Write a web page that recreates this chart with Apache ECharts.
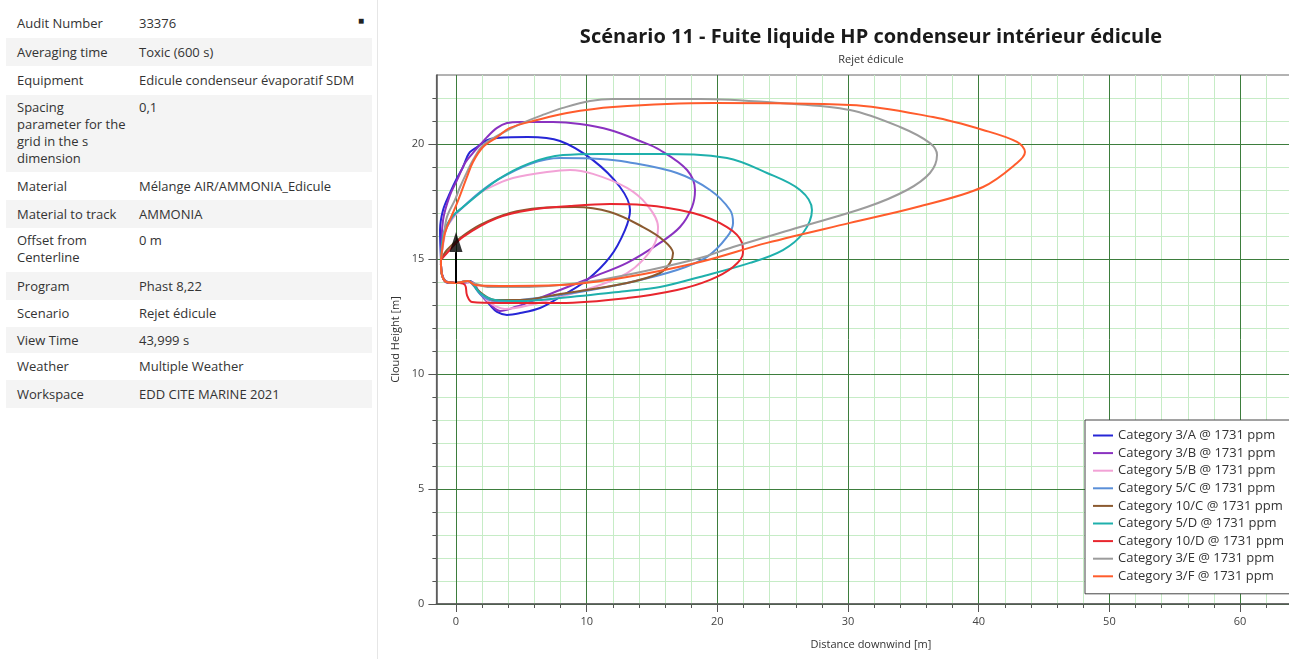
<!DOCTYPE html>
<html>
<head>
<meta charset="utf-8">
<script src="https://cdn.jsdelivr.net/npm/echarts@6/dist/echarts.min.js"></script>
<style>
  html, body { margin:0; padding:0; width:1289px; height:659px; overflow:hidden; background:#fff; font-family:"Open Sans","Noto Sans",sans-serif; }
  #panel { position:absolute; left:0; top:0; width:377px; height:659px; background:#fff; border-right:1px solid #e6e6e6; }
  .row { position:absolute; left:6px; width:366px; font-size:13px; color:#333; line-height:17px; white-space:nowrap; }
  .row .k { position:absolute; left:11px; width:118px; }
  .row .v { position:absolute; left:133px; }
  .odd { background:#f4f4f4; }
  #pin { position:absolute; left:358px; top:13px; font-size:10px; color:#222; }
  #chart { position:absolute; left:380px; top:0; width:982px; height:659px; }
</style>
</head>
<body>
<div id="panel"></div>
<div id="chart"></div>
<script>
// ---------- Table data ----------
const tableKeys = ["Audit Number","Averaging time","Equipment","Spacing<br>parameter for the<br>grid in the s<br>dimension","Material","Material to track","Offset from<br>Centerline","Program","Scenario","View Time","Weather","Workspace"];
const tableValues = ["33376","Toxic (600 s)","Edicule condenseur évaporatif SDM","0,1","Mélange AIR/AMMONIA_Edicule","AMMONIA","0 m","Phast 8,22","Rejet édicule","43,999 s","Multiple Weather","EDD CITE MARINE 2021"];
const rowTops = [8,38,66,95,172,200,228,272,300,327,353,380];
const rowHeights = [30,28,29,77,28,28,44,28,27,26,27,28];

// ---------- Chart data ----------
const titleText = "Scénario 11 - Fuite liquide HP condenseur intérieur édicule";
const subTitleText = "Rejet édicule";
const seriesNames = ["Category 3/A @ 1731 ppm","Category 3/B @ 1731 ppm","Category 5/B @ 1731 ppm","Category 5/C @ 1731 ppm","Category 10/C @ 1731 ppm","Category 5/D @ 1731 ppm","Category 10/D @ 1731 ppm","Category 3/E @ 1731 ppm","Category 3/F @ 1731 ppm"];
const seriesColors = ["#2626d6","#8a32c0","#f2a2d6","#5a8fd8","#8b5a30","#1fb0ac","#e8262e","#9c9c9c","#ff5c2c"];
const xMajorTicks = [0,10,20,30,40,50,60];
const xMinorTicks = [2,4,6,8,12,14,16,18,22,24,26,28,32,34,36,38,42,44,46,48,52,54,56,58,62,64];
const yMajorTicks = [0,5,10,15,20];
const yMinorTicks = [1,2,3,4,6,7,8,9,11,12,13,14,16,17,18,19,21,22];

const cat3A = [[-1.15,14.96],[-1.22,16.26],[-0.99,17.13],[-0.46,17.87],[0.08,18.52],[0.54,19.0],[0.84,19.43],[1.07,19.65],[1.61,19.87],[2.37,20.17],[3.14,20.26],[5.5,20.3],[7.96,20.13],[10.48,19.3],[12.55,18.13],[13.32,17.13],[12.93,16.26],[11.79,15.09],[10.03,14.09],[7.96,13.35],[6.43,12.87],[4.9,12.65],[3.9,12.57],[3.14,12.7],[2.6,13.0],[2.07,13.35],[1.61,13.65],[1.07,14.04],[0.54,13.96],[-0.46,13.96],[-0.92,14.09],[-1.15,14.74],[-1.15,14.96]];
const cat3B = [[-1.15,14.96],[-0.99,16.7],[-0.46,17.78],[0.08,18.43],[0.69,19.17],[1.3,19.61],[1.84,19.96],[2.37,20.3],[3.14,20.7],[3.9,20.91],[4.9,20.96],[7.42,20.96],[9.49,20.87],[11.79,20.61],[14.08,20.13],[15.61,19.74],[17.68,18.87],[18.29,18.0],[18.06,17.26],[17.14,16.39],[15.61,15.7],[13.09,14.83],[10.48,14.22],[7.96,13.65],[6.05,13.22],[4.52,12.91],[3.37,12.74],[2.6,13.04],[1.84,13.48],[1.22,14.0],[0.31,13.96],[-0.77,14.04],[-1.15,14.74],[-1.15,14.96]];
const cat5B = [[-1.15,14.96],[-0.92,15.83],[-0.69,16.39],[0.31,17.13],[1.84,17.87],[3.14,18.26],[4.36,18.52],[6.96,18.78],[8.72,18.87],[10.48,18.7],[13.09,18.09],[14.62,17.35],[15.46,16.39],[15.23,15.7],[14.31,14.96],[13.09,14.39],[11.02,13.87],[7.96,13.35],[5.66,13.0],[3.75,12.83],[2.6,13.09],[1.68,13.65],[1.07,14.0],[-0.08,13.96],[-0.84,14.04],[-1.15,14.74],[-1.15,14.96]];
const cat5C = [[-1.15,14.96],[-0.92,16.04],[-0.31,16.78],[0.54,17.26],[1.84,17.91],[3.14,18.43],[5.66,19.13],[7.96,19.39],[11.02,19.35],[13.09,19.22],[16.91,18.74],[19.44,18.0],[20.97,17.13],[21.2,16.57],[20.74,15.96],[19.21,15.09],[16.91,14.52],[13.09,13.96],[7.96,13.43],[4.9,13.22],[2.98,13.17],[2.0,13.39],[1.3,13.87],[0.92,14.04],[-0.08,13.96],[-0.84,14.04],[-1.15,14.74],[-1.15,14.96]];
const cat10C = [[-1.15,14.96],[-0.69,15.39],[0.31,15.91],[1.84,16.48],[4.13,17.0],[6.43,17.22],[9.11,17.26],[11.79,17.04],[14.31,16.39],[15.84,15.83],[16.61,15.26],[16.38,14.83],[15.61,14.39],[13.09,13.96],[7.96,13.48],[4.9,13.22],[2.98,13.22],[1.84,13.56],[1.22,13.96],[0.92,14.04],[-0.08,13.96],[-0.84,14.04],[-1.15,14.74],[-1.15,14.96]];
const cat5D = [[-1.15,14.96],[-0.92,16.17],[-0.31,16.83],[0.54,17.26],[3.14,18.43],[5.66,19.17],[8.19,19.52],[11.02,19.57],[15.61,19.57],[20.74,19.39],[23.8,18.74],[26.33,18.0],[27.24,17.13],[26.56,16.13],[25.02,15.39],[22.5,14.83],[18.67,14.22],[15.61,13.78],[13.09,13.61],[7.96,13.3],[4.9,13.17],[2.98,13.22],[1.84,13.52],[1.3,13.91],[0.92,14.04],[-0.08,13.96],[-0.84,14.04],[-1.15,14.74],[-1.15,14.96]];
const cat10D = [[-1.15,14.96],[-0.69,15.26],[0.54,15.96],[3.14,16.78],[5.66,17.13],[8.72,17.3],[11.79,17.39],[14.31,17.35],[18.14,17.0],[20.74,16.39],[21.89,15.7],[21.96,15.26],[21.2,14.65],[19.44,14.09],[16.91,13.65],[13.09,13.3],[7.96,13.09],[3.37,13.09],[1.22,13.13],[0.84,13.43],[0.69,13.87],[0.15,13.96],[-0.77,14.0],[-1.15,14.74],[-1.15,14.96]];
const cat3E = [[-1.15,14.96],[-0.92,16.04],[-0.69,16.83],[-0.08,17.57],[0.31,18.13],[0.84,18.78],[1.3,19.3],[2.07,19.96],[3.14,20.35],[4.9,20.87],[6.81,21.3],[8.19,21.57],[10.25,21.87],[12.02,21.96],[18.67,21.96],[24.8,21.78],[30.15,21.48],[33.98,20.74],[36.27,20.04],[36.81,19.52],[36.27,18.74],[34.51,18.0],[31.45,17.26],[26.33,16.39],[21.2,15.52],[18.67,15.04],[14.85,14.52],[11.02,14.09],[7.96,13.87],[4.9,13.78],[2.6,13.78],[1.3,13.96],[0.92,14.04],[-0.08,13.96],[-0.84,14.04],[-1.15,14.74],[-1.15,14.96]];
const cat3F = [[-1.15,14.96],[-0.92,15.96],[-0.69,16.39],[0.08,17.43],[0.84,18.57],[1.3,19.22],[2.07,19.87],[3.14,20.3],[4.13,20.7],[6.2,21.04],[8.49,21.35],[12.02,21.61],[19.67,21.78],[30.15,21.7],[36.5,21.17],[40.33,20.61],[42.93,20.09],[43.54,19.65],[42.93,19.17],[40.33,18.13],[35.28,17.26],[30.15,16.57],[23.8,15.7],[18.67,14.87],[13.09,14.22],[7.96,13.87],[3.37,13.83],[1.45,13.87],[0.92,14.04],[-0.08,13.96],[-0.84,14.04],[-1.15,14.74],[-1.15,14.96]];
const arrowShaft = [[0,13.96],[0,15.3]];
const arrowHead = [[0,15.74]];

// ---------- Build left panel ----------
const panel = document.getElementById('panel');
tableKeys.forEach((k, i) => {
  const r = document.createElement('div');
  r.className = 'row' + (i % 2 === 1 ? ' odd' : '');
  r.style.top = rowTops[i] + 'px';
  r.style.height = rowHeights[i] + 'px';
  const single = k.indexOf('<br>') < 0;
  const pad = single ? Math.round((rowHeights[i] - 17) / 2) : 4;
  r.innerHTML = '<div class="k" style="top:' + pad + 'px">' + k + '</div><div class="v" style="top:' + pad + 'px">' + tableValues[i] + '</div>';
  panel.appendChild(r);
});
const pin = document.createElement('div');
pin.id = 'pin'; pin.textContent = '■';
panel.appendChild(pin);

// ---------- Chart ----------
const chart = echarts.init(document.getElementById('chart'), null, {renderer: 'canvas'});
const curves = [cat3A, cat3B, cat5B, cat5C, cat10C, cat5D, cat10D, cat3E, cat3F];
const FONT = '"Open Sans","Noto Sans",sans-serif';
const gridRect = {left: 56.4, top: 75, width: 869, height: 529};
const series = curves.map((d, i) => ({
  name: seriesNames[i], type: 'line', data: d, xAxisIndex: 0, yAxisIndex: 0,
  smooth: 0.35, symbol: 'none', showSymbol: false,
  lineStyle: {color: seriesColors[i], width: 2}, itemStyle: {color: seriesColors[i]},
  z: 3 + i
}));
series.push({
  name: 'arrowShaft', type: 'line', data: arrowShaft, symbol: 'none',
  lineStyle: {color: '#000', width: 2}, z: 20, silent: true
});
series.push({
  name: 'arrowHead', type: 'scatter', data: arrowHead, symbol: 'triangle',
  symbolSize: [13, 20], itemStyle: {color: '#000'}, z: 21, silent: true
});

const axisFont = {color: '#444', fontSize: 11, fontFamily: FONT};
chart.setOption({
  animation: false,
  backgroundColor: '#fff',
  textStyle: {fontFamily: FONT},
  title: {
    text: titleText, subtext: subTitleText, left: 'center', top: 22, itemGap: 7,
    textStyle: {fontSize: 20, fontWeight: 'bold', color: '#1a1a1a', fontFamily: FONT},
    subtextStyle: {fontSize: 11, color: '#333', fontFamily: FONT}
  },
  legend: {
    data: seriesNames, orient: 'vertical', left: 705, top: 420,
    icon: 'rect', itemWidth: 20, itemHeight: 2, itemGap: 2.6,
    padding: [8, 10, 10, 8],
    backgroundColor: '#fff', borderColor: '#444', borderWidth: 1, borderRadius: 0,
    textStyle: {fontSize: 13, color: '#333', fontFamily: FONT, lineHeight: 15},
    selectedMode: false
  },
  grid: [
    Object.assign({show: true, borderColor: '#666', borderWidth: 1, backgroundColor: 'transparent', outerBoundsMode: 'none', containLabel: false}, gridRect),
    Object.assign({show: false, outerBoundsMode: 'none', containLabel: false}, gridRect)
  ],
  xAxis: [
    {
      type: 'value', gridIndex: 0, min: -1.5, max: 65, position: 'bottom',
      name: 'Distance downwind [m]', nameLocation: 'middle', nameGap: 35,
      nameTextStyle: {color: '#333', fontSize: 11, fontFamily: FONT},
      axisLine: {show: true, onZero: false, lineStyle: {color: '#555', width: 1.5}},
      axisTick: {show: true, customValues: xMajorTicks, length: 8, lineStyle: {color: '#555'}},
      axisLabel: Object.assign({customValues: xMajorTicks, margin: 12}, axisFont),
      splitLine: {show: true, lineStyle: {color: '#3d7d3d', width: 1}},
      z: 2
    },
    {
      type: 'value', gridIndex: 1, min: -1.5, max: 65, position: 'bottom',
      axisLine: {show: false, onZero: false},
      axisTick: {show: true, customValues: xMinorTicks, length: 4, lineStyle: {color: '#555'}},
      axisLabel: {show: false},
      splitLine: {show: true, lineStyle: {color: '#c6ecc6', width: 1}},
      z: 1
    }
  ],
  yAxis: [
    {
      type: 'value', gridIndex: 0, min: 0, max: 23, position: 'left',
      name: 'Cloud Height [m]', nameLocation: 'middle', nameGap: 27,
      nameTextStyle: {color: '#333', fontSize: 11, fontFamily: FONT},
      axisLine: {show: true, onZero: false, lineStyle: {color: '#555', width: 1.5}},
      axisTick: {show: true, customValues: yMajorTicks, length: 8, lineStyle: {color: '#555'}},
      axisLabel: Object.assign({customValues: yMajorTicks, margin: 12}, axisFont),
      splitLine: {show: true, lineStyle: {color: '#3d7d3d', width: 1}},
      z: 2
    },
    {
      type: 'value', gridIndex: 1, min: 0, max: 23, position: 'left',
      axisLine: {show: false, onZero: false},
      axisTick: {show: true, customValues: yMinorTicks, length: 4, lineStyle: {color: '#555'}},
      axisLabel: {show: false},
      splitLine: {show: true, lineStyle: {color: '#c6ecc6', width: 1}},
      z: 1
    }
  ],
  series: series
});
</script>
</body>
</html>
